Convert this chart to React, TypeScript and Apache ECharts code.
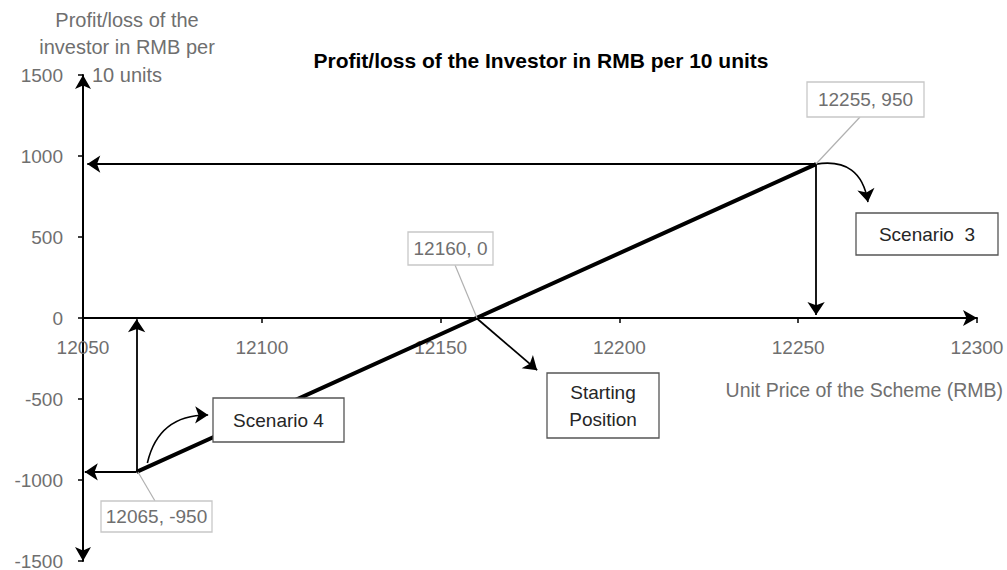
import React, { useEffect, useRef } from "react";
import * as echarts from "echarts";

// Payoff line: unit price (RMB) vs profit/loss per 10 units
const payoffX = [12065, 12160, 12255];
const payoffY = [-950, 0, 950];

// Axis ranges / tick steps
const xMin = 12050;
const xMax = 12300;
const xStep = 50;
const yMin = -1500;
const yMax = 1500;
const yStep = 500;

// Straight annotation arrows (data coordinates: [from, to])
const arrowFrom = [
  [12255, 950],
  [12255, 950],
  [12065, -950],
  [12065, -950],
  [12160, 0],
];
const arrowTo = [
  [12051.2, 950],
  [12255, 18],
  [12050.5, -950],
  [12065, -8],
  [12177, -322],
];

// Curved annotation arrows
const curveFrom = [
  [12255, 950],
  [12068, -895],
];
const curveTo = [
  [12269.5, 716],
  [12085, -599],
];
const curveBend = [0.5, 0.4];

const titleText = "Profit/loss of the Investor in RMB per 10 units";
const yName = "Profit/loss of the\ninvestor in RMB per\n10 units";
const xName = "Unit Price of the Scheme (RMB)";

const FONT = "'Liberation Sans', Arial, sans-serif";
const GRAY = "#6f6f6f";

const GRID_TOP = 75;
const GRID_BOTTOM = 9;
const H = 570;

function box(
  x: number,
  y: number,
  w: number,
  h: number,
  text: string,
  stroke: string,
  color: string,
  lineHeight = 22
) {
  return {
    type: "group",
    z: 50,
    children: [
      {
        type: "rect",
        shape: { x, y, width: w, height: h },
        style: { fill: "#fff", stroke, lineWidth: 1.3 },
        z: 50,
      },
      {
        type: "text",
        x: x + w / 2,
        y: y + h / 2,
        z: 51,
        style: {
          text,
          fill: color,
          font: `19px ${FONT}`,
          textAlign: "center",
          textVerticalAlign: "middle",
          lineHeight,
        },
      },
    ],
  };
}

export default function App() {
  const ref = useRef<HTMLDivElement>(null);

  useEffect(() => {
    if (!ref.current) return;
    const chart = echarts.init(ref.current, undefined, { renderer: "svg" });

    const lineData = payoffX.map((x, i) => [x, payoffY[i]]);
    const ptLabel = (i: number) => `${payoffX[i]}, ${payoffY[i]}`;

    // distance from grid bottom to the y = 0 line (x axis drawn there)
    const gridH = H - GRID_TOP - GRID_BOTTOM;
    const zeroOffset = (gridH * (0 - yMin)) / (yMax - yMin);

    const curveSeries = curveFrom.map((f, i) => ({
      type: "lines",
      coordinateSystem: "cartesian2d",
      symbol: ["none", "arrow"],
      symbolSize: 13,
      lineStyle: { color: "#000", width: 1.6, curveness: curveBend[i], opacity: 1 },
      data: [{ coords: [f, curveTo[i]] }],
      z: 4,
      silent: true,
    }));

    chart.setOption({
      animation: false,
      backgroundColor: "#fff",
      textStyle: { fontFamily: FONT },
      grid: {
        left: 83,
        right: 30,
        top: GRID_TOP,
        bottom: GRID_BOTTOM,
        containLabel: false,
        outerBoundsMode: "none",
      },
      xAxis: {
        type: "value",
        min: xMin,
        max: xMax,
        interval: xStep,
        position: "bottom",
        offset: -zeroOffset,
        splitLine: { show: false },
        axisLine: {
          show: true,
          onZero: false,
          symbol: ["none", "arrow"],
          symbolSize: [12, 14],
          lineStyle: { color: "#000", width: 2 },
        },
        axisTick: { show: true, length: 5, lineStyle: { color: "#000", width: 1.5 } },
        axisLabel: {
          color: GRAY,
          fontSize: 19,
          margin: 20,
          fontFamily: FONT,
          formatter: (v: number) => String(v),
          hideOverlap: false,
        },
      },
      yAxis: {
        type: "value",
        min: yMin,
        max: yMax,
        interval: yStep,
        splitLine: { show: false },
        axisLine: {
          show: true,
          onZero: false,
          symbol: ["arrow", "arrow"],
          symbolSize: [12, 14],
          lineStyle: { color: "#000", width: 2 },
        },
        axisTick: { show: true, length: 5, lineStyle: { color: "#000", width: 1.5 } },
        axisLabel: {
          color: GRAY,
          fontSize: 19,
          margin: 20,
          fontFamily: FONT,
          formatter: (v: number) => String(v),
        },
      },
      series: [
        {
          type: "line",
          data: lineData,
          symbol: "none",
          lineStyle: { color: "#000", width: 4 },
          z: 3,
          silent: true,
        },
        {
          type: "lines",
          coordinateSystem: "cartesian2d",
          symbol: ["none", "arrow"],
          symbolSize: 13,
          lineStyle: { color: "#000", width: 1.8, opacity: 1 },
          data: arrowFrom.map((f, i) => ({ coords: [f, arrowTo[i]] })),
          z: 4,
          silent: true,
        },
        ...curveSeries,
      ],
      graphic: [
        {
          type: "text",
          x: 541,
          y: 60,
          style: {
            text: titleText,
            fill: "#000",
            font: `bold 21px ${FONT}`,
            textAlign: "center",
            textVerticalAlign: "middle",
          },
        },
        {
          type: "text",
          x: 127,
          y: 6,
          style: {
            text: yName,
            fill: GRAY,
            font: `20px ${FONT}`,
            textAlign: "center",
            textVerticalAlign: "top",
            lineHeight: 27.5,
          },
        },
        {
          type: "text",
          x: 1003,
          y: 390,
          style: {
            text: xName,
            fill: GRAY,
            font: `19.5px ${FONT}`,
            textAlign: "right",
            textVerticalAlign: "middle",
          },
        },
        // leader lines
        { type: "line", z: 20, shape: { x1: 860, y1: 117, x2: 816, y2: 164 }, style: { stroke: "#b0b0b0", lineWidth: 1.2 } },
        { type: "line", z: 20, shape: { x1: 455, y1: 265, x2: 477, y2: 318 }, style: { stroke: "#b0b0b0", lineWidth: 1.2 } },
        { type: "line", z: 20, shape: { x1: 138, y1: 472, x2: 155, y2: 501 }, style: { stroke: "#b0b0b0", lineWidth: 1.2 } },
        box(807, 82, 117, 35, ptLabel(2), "#c8c8c8", GRAY),
        box(408, 232, 85, 33, ptLabel(1), "#c8c8c8", GRAY),
        box(101, 501, 111, 31, ptLabel(0), "#c8c8c8", GRAY),
        box(856, 213, 142, 42, "Scenario  3", "#555", "#262626"),
        box(547, 373, 112, 65, "Starting\nPosition", "#555", "#262626", 27),
        box(213, 398, 131, 44, "Scenario 4", "#555", "#262626"),
      ],
    });

    return () => chart.dispose();
  }, []);

  return (
    <div
      ref={ref}
      style={{ position: "fixed", left: 0, top: 0, width: 1007, height: 570 }}
    />
  );
}
